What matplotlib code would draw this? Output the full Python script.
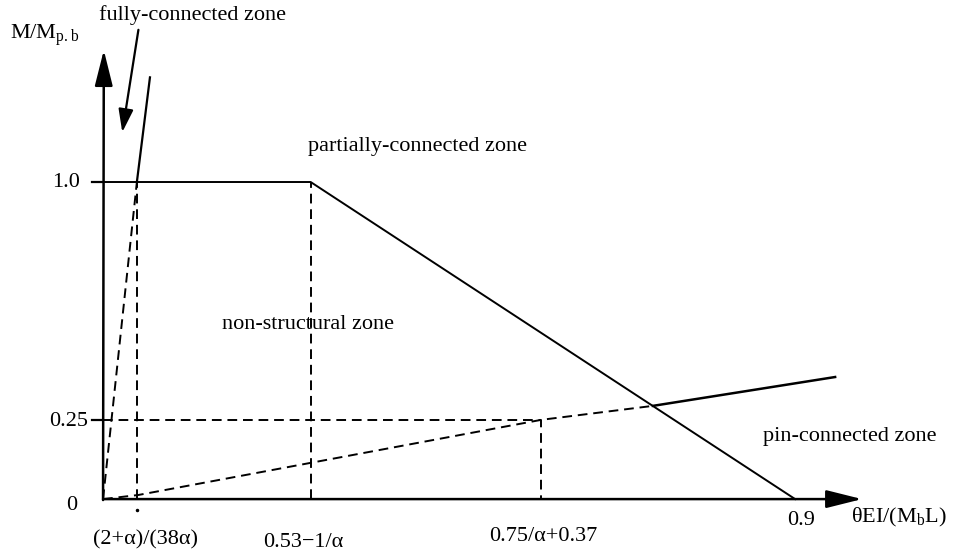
import matplotlib
matplotlib.use('Agg')
import matplotlib.pyplot as plt

plt.rcParams['font.family'] = ['Liberation Serif', 'DejaVu Serif']
plt.rcParams['mathtext.fontset'] = 'custom'
plt.rcParams['mathtext.rm'] = 'Liberation Serif'
plt.rcParams['mathtext.default'] = 'regular'

# schematic values
x_ticks = [0.044, 0.27, 0.57, 0.9]
x_tick_labels = ['(2+α)/(38α)', '0.53−1/α', '0.75/α+0.37', '0.9']
y_ticks = [0, 0.25, 1.0]
y_tick_labels = ['0', '0.25', '1.0']

full_x = [0, 0.044, 0.061]          # fully-connected boundary
full_y = [0, 1.0, 1.33]
partial_x = [0, 0.27, 0.9]          # partially-connected boundary
partial_y = [1.0, 1.0, 0]
pin_x = [0, 0.046, 0.57, 0.715, 0.952]   # pin-connected boundary
pin_y = [0, 0.013, 0.25, 0.294, 0.385]

fig = plt.figure(figsize=(9.54, 5.53), dpi=100)
ax = fig.add_axes([0, 0, 1, 1])
ax.set_xlim(-0.134, 1.1066)
ax.set_ylim(-0.170, 1.574)
ax.axis('off')

dash = (0, (5, 3))
k = 'black'

# axes with arrows
ax.annotate('', xy=(0.987, 0), xytext=(0, 0),
            arrowprops=dict(arrowstyle='-|>,head_length=2.2,head_width=0.55', lw=1.8, color=k, shrinkA=0, shrinkB=0))
ax.annotate('', xy=(0.001, 1.416), xytext=(0, -0.003),
            arrowprops=dict(arrowstyle='-|>,head_length=2.2,head_width=0.55', lw=1.8, color=k, shrinkA=0, shrinkB=0))

# ticks
for yt in y_ticks[1:]:
    ax.plot([-0.014, 0], [yt, yt], color=k, lw=1.6)
ax.plot([x_ticks[0]], [-0.035], marker='.', ms=3, color=k)

# solid boundaries
ax.plot(partial_x, partial_y, color=k, lw=1.4)
ax.plot(full_x[1:], full_y[1:], color=k, lw=1.6)
ax.plot(full_x[:2], full_y[:2], color=k, lw=1.4, linestyle=dash)
ax.plot(pin_x[3:], pin_y[3:], color=k, lw=1.8)
ax.plot(pin_x[:4], pin_y[:4], color=k, lw=1.4, linestyle=dash)

# dashed guides
ax.plot([x_ticks[0], x_ticks[0]], [0, 1.0], color=k, lw=1.4, linestyle=dash)
ax.plot([x_ticks[1], x_ticks[1]], [0, 1.0], color=k, lw=1.4, linestyle=dash)
ax.plot([0, x_ticks[2], x_ticks[2]], [0.25, 0.25, 0], color=k, lw=1.4, linestyle=dash)

# tick labels
fs = 16
ax.text(-0.030, 1.0, y_tick_labels[2], ha='right', va='center', fontsize=fs)
ax.text(-0.019, 0.245, y_tick_labels[1], ha='right', va='center', fontsize=fs)
ax.text(-0.033, -0.019, y_tick_labels[0], ha='right', va='center', fontsize=fs)
ax.text(0.0546, -0.129, x_tick_labels[0], ha='center', va='center', fontsize=fs)
ax.text(0.261, -0.137, x_tick_labels[1], ha='center', va='center', fontsize=fs)
ax.text(0.572, -0.117, x_tick_labels[2], ha='center', va='center', fontsize=fs)
ax.text(0.908, -0.066, x_tick_labels[3], ha='center', va='center', fontsize=fs)

# axis titles
ax.text(-0.121, 1.462, 'M/M$_{p.b}$', ha='left', va='center', fontsize=fs)
ax.text(0.973, -0.058, 'θEI/(M$_b$L)', ha='left', va='center', fontsize=fs)

# zone labels
ax.text(0.1157, 1.527, 'fully-connected zone', ha='center', va='center', fontsize=fs)
ax.annotate('', xy=(0.025, 1.157), xytext=(0.046, 1.48),
            arrowprops=dict(arrowstyle='-|>,head_length=1.4,head_width=0.45', lw=1.6, color=k, shrinkA=0, shrinkB=0))
ax.text(0.267, 1.111, 'partially-connected zone', ha='left', va='center', fontsize=fs)
ax.text(0.155, 0.552, 'non-structural zone', ha='left', va='center', fontsize=fs)
ax.text(0.858, 0.196, 'pin-connected zone', ha='left', va='center', fontsize=fs)

fig.savefig('out.png', dpi=100)
